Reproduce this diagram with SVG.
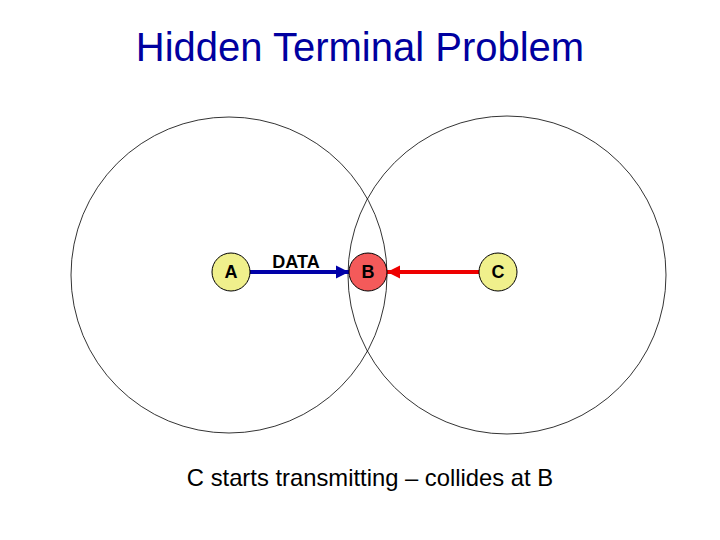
<svg xmlns="http://www.w3.org/2000/svg" width="720" height="540" viewBox="0 0 720 540">
<style>
.range{fill:none;stroke:#000;stroke-width:0.8}
.node{stroke:#000;stroke-width:1}
.lbl{font-family:"Liberation Sans",Arial,sans-serif;font-weight:bold;font-size:18px;text-anchor:middle}
</style>
<defs>
<marker id="ab" viewBox="0 0 10 10" refX="10" refY="5" markerWidth="3.3" markerHeight="3.3" markerUnits="strokeWidth" orient="auto"><path d="M0,0 L10,5 L0,10 z" fill="#0000a8"/></marker>
<marker id="ar" viewBox="0 0 10 10" refX="10" refY="5" markerWidth="3.3" markerHeight="3.3" markerUnits="strokeWidth" orient="auto"><path d="M0,0 L10,5 L0,10 z" fill="#ee0000"/></marker>
</defs>
<rect width="720" height="540" fill="#fff"/>
<text x="360" y="61" font-family="'Liberation Sans',Arial,sans-serif" font-size="40" fill="#0000a0" text-anchor="middle">Hidden Terminal Problem</text>
<g id="ranges">
<circle class="range" cx="229" cy="275" r="158"/>
<circle class="range" cx="507" cy="275" r="159"/>
</g>
<g id="connectors">
<line x1="250" y1="272" x2="349" y2="272" stroke="#0000a8" stroke-width="4" marker-end="url(#ab)"/>
<line x1="479" y1="272" x2="387" y2="272" stroke="#ee0000" stroke-width="4" marker-end="url(#ar)"/>
<text x="296" y="268" class="lbl">DATA</text>
</g>
<g id="A"><circle class="node" cx="231" cy="272" r="19" fill="#f0f08c"/><text x="231" y="278" class="lbl">A</text></g>
<g id="B"><circle class="node" cx="368" cy="272" r="19" fill="#f45a5a"/><text x="368" y="278" class="lbl">B</text></g>
<g id="C"><circle class="node" cx="498" cy="272" r="19" fill="#f0f08c"/><text x="498" y="278" class="lbl">C</text></g>
<text x="370" y="486" font-family="'Liberation Sans',Arial,sans-serif" font-size="23.8" fill="#000" text-anchor="middle">C starts transmitting – collides at B</text>
</svg>
